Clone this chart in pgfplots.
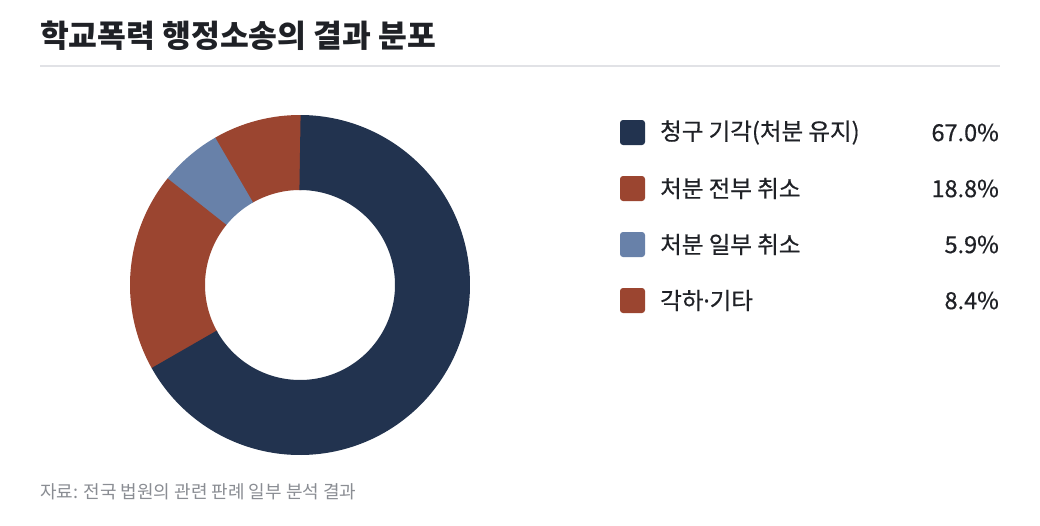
\documentclass[border=0pt]{standalone}
\usepackage{pgfplots}
\pgfplotsset{compat=1.18}
\usepackage{fontspec}
\setmainfont{Noto Sans CJK KR}
\newfontfamily\medfont[FakeBold=0.5]{Noto Sans CJK KR}
\newfontfamily\dotfont[FakeBold=0.5]{Noto Sans}
\definecolor{navy}{HTML}{22334F}
\definecolor{rust}{HTML}{9B4530}
\definecolor{steel}{HTML}{6881A9}
\definecolor{txt}{HTML}{1F2126}
\definecolor{src}{HTML}{8A8D93}
\definecolor{rule}{HTML}{E1E2E6}
% data (percent)
\def\vA{67.0}
\def\vB{18.8}
\def\vC{5.9}
\def\vD{8.4}
\begin{document}
\begin{tikzpicture}
\pgfmathsetmacro\tot{\vA+\vB+\vC+\vD}
\pgfmathsetmacro\aA{-90}
\pgfmathsetmacro\aB{\aA+(\vA/\tot)*360}
\pgfmathsetmacro\aC{\aB+(\vB/\tot)*360}
\pgfmathsetmacro\aD{\aC+(\vC/\tot)*360}
\pgfmathsetmacro\aE{\aD+(\vD/\tot)*360}
\pgfmathsetmacro\aBm{\aB-0.5}
\pgfmathsetmacro\aCx{\aC+0.4}
\pgfmathsetmacro\aDx{\aD+0.4}
\pgfmathsetmacro\aEx{\aE+0.6}
\begin{axis}[
  scale only axis, width=1040pt, height=525pt,
  xmin=0, xmax=1040, ymin=0, ymax=525, y dir=reverse,
  hide axis, clip=false, anchor=south west, at={(0,0)},
  axis background/.style={fill=white},
]
\addplot[draw=rust, line width=75pt, line cap=butt, no markers, domain=\aD:\aEx, samples=30, variable=\t] ({300+132.5*cos(\t)},{285+132.5*sin(\t)});
\addplot[draw=steel, line width=75pt, line cap=butt, no markers, domain=\aC:\aDx, samples=30, variable=\t] ({300+132.5*cos(\t)},{285+132.5*sin(\t)});
\addplot[draw=rust, line width=75pt, line cap=butt, no markers, domain=\aBm:\aCx, samples=60, variable=\t] ({300+132.5*cos(\t)},{285+132.5*sin(\t)});
\addplot[draw=navy, line width=75pt, line cap=butt, no markers, domain=\aA:\aB, samples=150, variable=\t] ({300+132.5*cos(\t)},{285+132.5*sin(\t)});
% title and rule
\node[anchor=west, inner sep=0, text=txt, font=\fontsize{31.3}{34}\selectfont\bfseries] at (40,36) {학교폭력 행정소송의 결과 분포};
\draw[rule, line width=1.5pt] (40,66) -- (1000,66);
% legend
\fill[navy, rounded corners=3pt] (620,120) rectangle (645,145);
\fill[rust, rounded corners=3pt] (620,176) rectangle (645,201);
\fill[steel, rounded corners=3pt] (620,232) rectangle (645,257);
\fill[rust, rounded corners=3pt] (620,288) rectangle (645,313);
\begin{scope}[every node/.style={inner sep=0, text=txt, font=\medfont\fontsize{23.5}{27}\selectfont}]
\node[anchor=west] at (660,132.5) {청구 기각(처분 유지)};
\node[anchor=west] at (660,188.5) {처분 전부 취소};
\node[anchor=west] at (660,244.5) {처분 일부 취소};
\node[anchor=west] at (660,300.5) {각하{\dotfont ·}기타};
\node[anchor=east] at (999,132.5) {67.0\%};
\node[anchor=east] at (999,188.5) {18.8\%};
\node[anchor=east] at (999,244.5) {5.9\%};
\node[anchor=east] at (999,300.5) {8.4\%};
\end{scope}
\node[anchor=west, inner sep=0, text=src, font=\fontsize{18}{21}\selectfont] at (40,492) {자료: 전국 법원의 관련 판례 일부 분석 결과};
\end{axis}
\end{tikzpicture}
\end{document}
